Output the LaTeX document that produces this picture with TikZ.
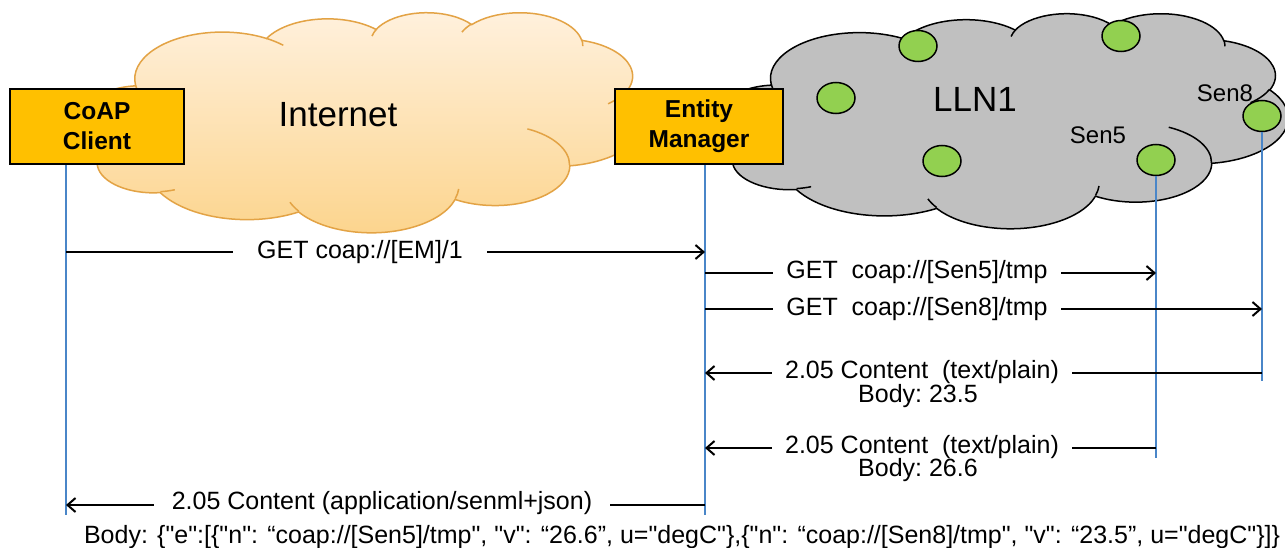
\documentclass[tikz,border=0pt]{standalone}
\usepackage{fontspec}
\setmainfont{Liberation Sans}[Ligatures=TeXOff]
\usetikzlibrary{arrows.meta,shapes.geometric}

\definecolor{boxfill}{HTML}{FFC000}
\definecolor{lifeblue}{HTML}{4A86C8}
\definecolor{nodegreen}{HTML}{92D050}
\definecolor{llngray}{HTML}{C0C0C0}
\definecolor{nettop}{HTML}{FFF1DE}
\definecolor{netbottom}{HTML}{FCD48C}
\definecolor{netedge}{HTML}{E3A345}

\newcommand\msgfont{\fontsize{25}{30}\selectfont}

\tikzset{
  declare function={ooang(\a,\b,\t)=atan2((\a)*sin(\t),(\b)*cos(\t));},
  % elliptical arc given by radii, start angle and sweep (ray angles)
  oo/.style n args={4}{x radius=#1, y radius=#2,
    start angle={ooang(#1,#2,#3)},
    delta angle={ooang(#1,#2,#3+#4)-ooang(#1,#2,#3)-360*round((ooang(#1,#2,#3+#4)-ooang(#1,#2,#3)-(#4))/360)}},
  cloudbody/.style={insert path={(39.00,143.70)
    arc[oo={67.53}{91.90}{-190.4875}{123.7805}]
    arc[oo={53.33}{72.67}{-144.1024}{89.9452}]
    arc[oo={43.65}{59.45}{-145.8079}{99.7230}]
    arc[oo={48.57}{65.95}{-130.9861}{117.2417}]
    arc[oo={53.33}{72.73}{-78.7089}{109.0269}]
    arc[oo={67.75}{92.20}{-46.2673}{130.2690}]
    arc[oo={57.85}{78.67}{0.6250}{114.0333}]
    arc[oo={67.52}{92.15}{22.4516}{115.1726}]
    arc[oo={77.20}{105.43}{66.2426}{75.7110}]
    arc[oo={43.60}{59.18}{-274.9421}{146.7356}]
    arc[oo={43.45}{59.45}{-246.8285}{152.5189}]
    -- cycle}},
  cloudcrease/.style={insert path={
    (46.93,261.77) arc[oo={43.45}{59.45}{86.7420}{26.4295}]
    (69.28,348.99) arc[oo={43.60}{59.18}{73.6105}{11.4477}]
    (164.78,390.90) arc[oo={67.52}{92.15}{137.6241}{14.0756}]
    (288.27,347.51) arc[oo={67.52}{92.15}{6.4533}{15.9984}]
    (341.29,229.54) arc[oo={57.85}{78.67}{-70.2924}{70.9174}]
    (417.98,153.54) arc[oo={53.33}{72.73}{30.3180}{27.7515}]
    (383.24,54.26) arc[oo={48.57}{65.95}{-13.7443}{14.8589}]
    (290.78,39.52) arc[oo={48.57}{65.95}{-149.1815}{18.1954}]
    (221.41,47.20) arc[oo={43.65}{59.45}{-163.4943}{17.6864}]
    (140.00,51.92) arc[oo={67.53}{91.90}{-66.7070}{12.3194}]
    (41.27,157.89) arc[oo={67.53}{91.90}{157.6544}{11.8582}]}},
  entitybox/.style={draw=black, line width=2pt, fill=boxfill, align=center,
    font=\fontsize{24.5}{30}\selectfont\bfseries, inner sep=0pt},
  sensor/.style={ellipse, draw=black, line width=1.5pt, fill=nodegreen,
    minimum width=38pt, minimum height=31pt, inner sep=0pt},
  life/.style={draw=lifeblue, line width=2pt},
  msg/.style={line width=2pt, -{Straight Barb[length=8pt,width=14pt]}},
  lbl/.style={fill=white, inner xsep=13pt, inner ysep=2pt, font=\msgfont},
  plain/.style={inner sep=0pt, font=\msgfont},
}

\begin{document}
\begin{tikzpicture}[x=1pt, y=-1pt]
\useasboundingbox (0,0) rectangle (1285,548);
\fill[white] (0,0) rectangle (1285,548);

% Internet cloud
\begin{scope}[shift={(85,12)}, x=1.2963pt, y=-0.5093pt]
  \path[cloudbody, top color=nettop, bottom color=netbottom, draw=netedge, line width=1.5pt];
  \path[cloudcrease, draw=netedge, line width=1.5pt];
\end{scope}

% LLN1 cloud
\begin{scope}[shift={(720,13)}, x=1.3148pt, y=-0.4977pt]
  \path[cloudbody, fill=llngray, draw=black, line width=1.5pt];
  \path[cloudcrease, draw=black, line width=1.5pt];
\end{scope}

\node[font=\fontsize{35}{40}\selectfont] (inet) at (338,115) {Internet};
\node[font=\fontsize{35}{40}\selectfont] (lln) at (975,99) {LLN1};

% sensor nodes
\node[sensor] (g1) at (836,98) {};
\node[sensor] (g2) at (918,46) {};
\node[sensor] (g3) at (1121,36) {};
\node[sensor] (g4) at (942,161) {};
\node[sensor] (sen5) at (1156,160) {};
\node[sensor] (sen8) at (1262,116) {};
\node[font=\fontsize{24}{28}\selectfont] (sen5lbl) at (1098,135) {Sen5};
\node[font=\fontsize{24}{28}\selectfont] (sen8lbl) at (1225,93) {Sen8};

% endpoints
\node[entitybox, minimum width=174pt, minimum height=75pt] (client) at (97,126.5) {CoAP\\Client};
\node[entitybox, minimum width=168pt, minimum height=75pt] (em) at (699,126.5) {Entity\\Manager};

% lifelines
\coordinate (clTop) at (66,165.5);
\coordinate (clBot) at (66,515);
\coordinate (emTop) at (705,165.5);
\coordinate (emBot) at (705,515);
\coordinate (s5Bot) at (1156,458);
\coordinate (s8Bot) at (1262,381);
\draw[life] (clTop) -- (clBot);
\draw[life] (emTop) -- (emBot);
\draw[life] (sen5.south) -- (s5Bot);
\draw[life] (sen8.south) -- (s8Bot);

% message anchors on the lifelines
\coordinate (m1c) at (66,252);   \coordinate (m1e) at (705,252);
\coordinate (m2e) at (705,273);  \coordinate (m2s) at (1156,273);
\coordinate (m3e) at (705,309);  \coordinate (m3s) at (1262,309);
\coordinate (m4s) at (1262,373); \coordinate (m4e) at (705,373);
\coordinate (m5s) at (1156,448); \coordinate (m5e) at (705,448);
\coordinate (m6e) at (705,505);  \coordinate (m6c) at (66,505);

\draw[msg] (m1c) -- (m1e);
\draw[msg] (m2e) -- (m2s);
\draw[msg] (m3e) -- (m3s);
\draw[msg] (m4s) -- (m4e);
\draw[msg] (m5s) -- (m5e);
\draw[msg] (m6e) -- (m6c);

\node[lbl, inner xsep=24pt] (t1) at (360,252) {GET coap://[EM]/1};
\node[lbl] (t2) at (917,272) {GET~~coap://[Sen5]/tmp};
\node[lbl] (t3) at (917,309) {GET~~coap://[Sen8]/tmp};
\node[lbl] (t4) at (922,372) {2.05 Content~~(text/plain)};
\node[plain] (b4) at (918,396) {Body:~23.5};
\node[lbl] (t5) at (922,447) {2.05 Content~~(text/plain)};
\node[plain] (b5) at (918,470) {Body:~26.6};
\node[lbl, inner xsep=18pt] (t6) at (382,503) {2.05 Content (application/senml+json)};
\node[plain] (b6) at (682,537) {Body: \{"e":[\{"n": “coap://[Sen5]/tmp", "v": “26.6”, u="degC"\},\{"n": “coap://[Sen8]/tmp", "v": “23.5”, u="degC"\}]\}};
\end{tikzpicture}
\end{document}
